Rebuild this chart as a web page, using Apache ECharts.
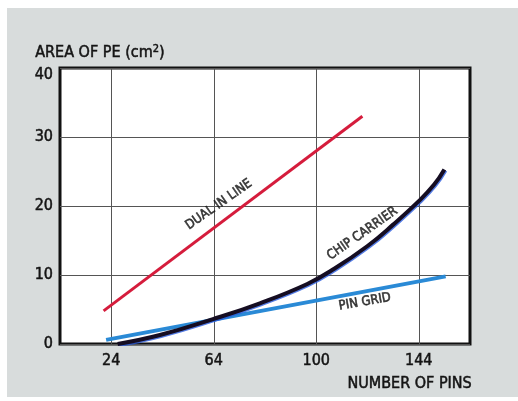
<!DOCTYPE html>
<html>
<head>
<meta charset="utf-8">
<script src="https://cdn.jsdelivr.net/npm/echarts@6/dist/echarts.min.js"></script>
<style>
  html, body { margin: 0; padding: 0; background: #ffffff; }
  #chart { width: 518px; height: 401px; }
</style>
</head>
<body>
<div id="chart"></div>
<script>
// Board area (cm²) against number of pins for three package styles
const xTickValues = [24, 64, 104, 144];
const xTickLabels = ['24', '64', '100', '144'];
const yTickValues = [0, 10, 20, 30, 40];

const dualInLine  = [[21, 4.8], [122, 33.0]];
const pinGrid     = [[22, 0.6], [154.5, 9.8]];
const chipCarrier = [[26.5, 0.0], [43, 1.3], [63.7, 3.6], [82, 5.9], [100.5, 8.7],
                     [111, 10.9], [124, 14.2], [134, 17.3], [144, 20.7], [150, 23.1], [154, 25.3]];

// Curve names written along each line: [pins, area, text, angle]
const curveLabels = [
  [66, 20.2, 'DUAL IN LINE', 35],
  [122, 16.0, 'CHIP CARRIER', 35],
  [123, 6.1, 'PIN GRID', 10]
];

const FONT = "'Liberation Sans Narrow', 'DejaVu Sans Condensed', 'Liberation Sans', sans-serif";
const INK = '#141414';

const chart = echarts.init(document.getElementById('chart'), null, { renderer: 'canvas' });

chart.setOption({
  animation: false,
  backgroundColor: 'transparent',
  graphic: [{
    type: 'rect', z: -10, silent: true,
    shape: { x: 7, y: 8, width: 511, height: 389 },
    style: { fill: '#d8dcdc' }
  }, {
    type: 'text', left: 35, top: 43,
    style: {
      text: 'AREA OF PE (cm{s|2})',
      font: '16px ' + FONT, fill: INK, stroke: INK, lineWidth: 0.5,
      rich: { s: { fontSize: 11, verticalAlign: 'top', fontFamily: FONT, fill: INK, padding: [0, 0, 8, 0] } }
    }
  }, {
    type: 'text', right: 46, top: 376,
    style: { text: 'NUMBER OF PINS', font: '16px ' + FONT, fill: INK, stroke: INK, lineWidth: 0.5 }
  }],
  grid: {
    left: 60, top: 68, right: 48, bottom: 57,
    show: true, backgroundColor: '#ffffff', borderColor: '#111', borderWidth: 3, z: 0
  },
  xAxis: {
    type: 'value', min: 4, max: 164,
    axisLine: { show: false },
    axisTick: { show: false, customValues: xTickValues },
    axisLabel: {
      customValues: xTickValues,
      formatter: v => xTickLabels[xTickValues.indexOf(v)],
      fontFamily: FONT, fontSize: 16, color: INK, textBorderColor: INK, textBorderWidth: 0.5, margin: 9
    },
    splitLine: { show: true, lineStyle: { color: '#555', width: 1 } }
  },
  yAxis: {
    type: 'value', min: 0, max: 40, interval: 10,
    axisLine: { show: false },
    axisTick: { show: false },
    axisLabel: {
      formatter: v => {
        if (yTickValues.indexOf(v) < 0) return '';
        return v === 40 ? '{top|' + v + '}' : String(v);
      },
      rich: { top: { fontFamily: FONT, fontSize: 16, color: INK, textBorderColor: INK, textBorderWidth: 0.5, padding: [13, 0, 0, 0] } },
      fontFamily: FONT, fontSize: 16, color: INK, textBorderColor: INK, textBorderWidth: 0.5, margin: 7
    },
    splitLine: { show: true, lineStyle: { color: '#555', width: 1 } }
  },
  series: [{
    name: 'DUAL IN LINE', type: 'line', data: dualInLine, symbol: 'none',
    lineStyle: { color: '#d51c3c', width: 3 }, z: 3
  }, {
    name: 'PIN GRID', type: 'line', data: pinGrid, symbol: 'none',
    lineStyle: { color: '#2a8ad6', width: 4 }, z: 3
  }, {
    name: 'CHIP CARRIER', type: 'line', data: chipCarrier, symbol: 'none', smooth: 0.45,
    lineStyle: { color: '#150d22', width: 4, shadowColor: 'rgba(40,90,220,0.8)', shadowOffsetX: 1, shadowOffsetY: 1 }, z: 4
  }, {
    name: 'labels', type: 'scatter', symbolSize: 0, z: 5,
    data: curveLabels.map(d => ({ value: [d[0], d[1]], name: d[2] })),
    label: {
      show: true, position: 'inside',
      formatter: p => p.name,
      fontFamily: FONT, fontSize: 13, color: INK, textBorderColor: INK, textBorderWidth: 0.6
    },
    labelLayout: p => ({ rotate: curveLabels[p.dataIndex][3] })
  }]
});
</script>
</body>
</html>
